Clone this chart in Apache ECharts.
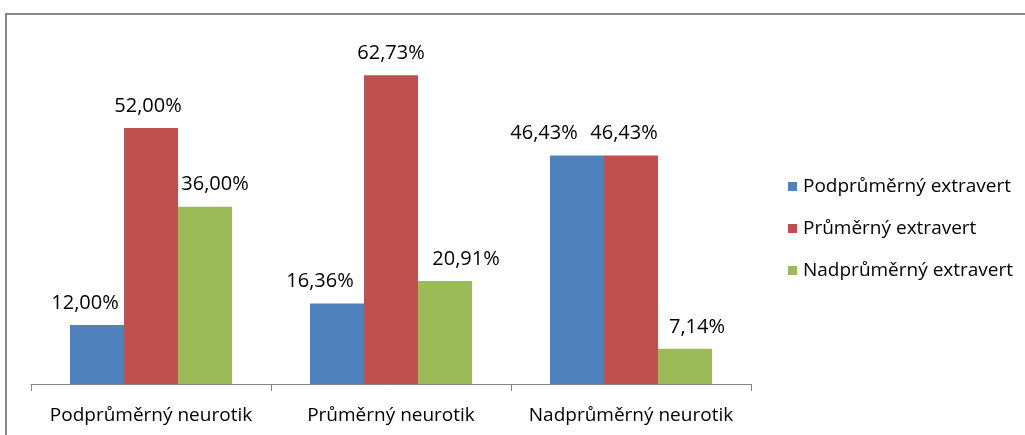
<!DOCTYPE html>
<html>
<head>
<meta charset="utf-8">
<script src="https://cdn.jsdelivr.net/npm/echarts@6/dist/echarts.min.js"></script>
<style>
  html, body { margin: 0; padding: 0; background: #fff; }
  #wrap { position: relative; width: 1025px; height: 435px; overflow: hidden; }
  #chart { width: 1025px; height: 435px; }
  /* ramecek grafu - pokracuje za okraj obrazku */
  .frame {
    position: absolute; left: 5px; top: 13px; width: 1100px; height: 500px;
    border-left: 2px solid #878787; border-top: 2px solid #878787;
    pointer-events: none;
  }
</style>
</head>
<body>
<div id="wrap">
  <div id="chart"></div>
  <div class="frame"></div>
</div>
<script>
const categories = ["Podprůměrný neurotik", "Průměrný neurotik", "Nadprůměrný neurotik"];
const seriesNames = ["Podprůměrný extravert", "Průměrný extravert", "Nadprůměrný extravert"];
const podprumerny = [12.0, 16.36, 46.43];
const prumerny = [52.0, 62.73, 46.43];
const nadprumerny = [36.0, 20.91, 7.14];
const colors = ["#4F81BD", "#C0504D", "#9BBB59"];
// posun popisku do strany (rucne posunute v puvodnim grafu)
const labelShift = [
  [-12, -17, -33],
  [-3, 0, -7],
  [10, 21, 12],
];

const font = "Open Sans";
const chart = echarts.init(document.getElementById("chart"));

function makeSeries(idx, data) {
  return {
    name: seriesNames[idx],
    type: "bar",
    data: data.map((v, i) => ({
      value: v,
      label: { offset: [labelShift[idx][i], 0] },
    })),
    barWidth: 54,
    barGap: "0%",
    itemStyle: { color: colors[idx] },
    label: {
      show: true,
      position: "top",
      distance: 12,
      fontFamily: font,
      fontSize: 20,
      color: "#000",
      formatter(p) {
        return p.value.toFixed(2).replace(".", ",") + "%";
      },
    },
  };
}

chart.setOption({
  animation: false,
  grid: {
    left: 31,
    right: 274,
    top: 39.4,
    bottom: 51,
  },
  xAxis: {
    type: "category",
    data: categories,
    axisLine: { lineStyle: { color: "#868686", width: 1 } },
    axisTick: { show: true, length: 7, lineStyle: { color: "#868686" } },
    axisLabel: {
      interval: 0,
      fontFamily: font,
      fontSize: 19,
      color: "#000",
      margin: 22,
    },
  },
  yAxis: {
    type: "value",
    min: 0,
    max: 70,
    show: false,
  },
  legend: {
    orient: "vertical",
    left: 783,
    top: 172,
    itemWidth: 9,
    itemHeight: 9,
    itemGap: 23,
    icon: "rect",
    textStyle: { fontFamily: font, fontSize: 19, color: "#000", padding: [0, 0, 0, 1] },
  },
  series: [
    makeSeries(0, podprumerny),
    makeSeries(1, prumerny),
    makeSeries(2, nadprumerny),
  ],
});
</script>
</body>
</html>
